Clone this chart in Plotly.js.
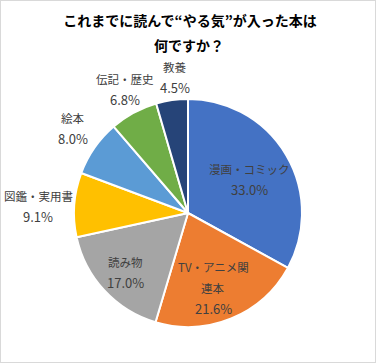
<!DOCTYPE html>
<html>
<head>
<meta charset="utf-8">
<script src="https://cdn.plot.ly/plotly-3.0.1.min.js"></script>
<style>
html,body{margin:0;padding:0;background:#fff;}
#chart{width:374px;height:361px;border:1px solid #d9d9d9;}
</style>
</head>
<body>
<div id="chart"></div>
<script>
// Data
const categories = ['漫画・コミック', 'TV・アニメ関連本', '読み物', '図鑑・実用書', '絵本', '伝記・歴史', '教養'];
const shares = [33.0, 21.6, 17.0, 9.1, 8.0, 6.8, 4.5];
const colors = ['#4472C4', '#ED7D31', '#A5A5A5', '#FFC000', '#5B9BD5', '#70AD47', '#264478'];
const titleLines = ['これまでに読んで“やる気”が入った本は', '何ですか？'];

// Layout helpers (pixel -> paper)
const W = 374, H = 361;
const px = x => (x - 1) / W;
const py = y => (H - (y - 1)) / H;

// Label line breaks (display only)
const wrapAt = {1: 7};
// Label anchor positions (pixels): centre of first line
const labelPos = [
  [249, 169], [213, 267], [125, 262], [38, 196], [73, 118], [125, 79], [175, 67]
];
const lineGap = 20.5;

const annotations = [];
categories.forEach((c, i) => {
  let lines = wrapAt[i] ? [c.slice(0, wrapAt[i]), c.slice(wrapAt[i])] : [c];
  lines.push(shares[i].toFixed(1) + '%');
  lines.forEach((t, k) => {
    annotations.push({
      text: t, xref: 'paper', yref: 'paper',
      x: px(labelPos[i][0]), y: py(labelPos[i][1] + k * lineGap),
      xanchor: 'center', yanchor: 'middle', showarrow: false,
      font: {family: 'Noto Sans CJK JP', size: k === lines.length - 1 ? 13 : 11.5, color: '#404040'}
    });
  });
});
annotations.push({
  text: '<b>' + titleLines[1] + '</b>', xref: 'paper', yref: 'paper',
  x: px(189), y: py(45), xanchor: 'center', yanchor: 'middle', showarrow: false,
  font: {family: 'Noto Sans CJK JP', size: 14, color: '#000000'}
});

const cx = 188, cy = 213, r = 114;
const trace = {
  type: 'pie',
  labels: categories,
  values: shares,
  sort: false,
  direction: 'clockwise',
  rotation: 0,
  marker: {colors: colors, line: {color: '#ffffff', width: 2}},
  textinfo: 'none',
  hoverinfo: 'skip',
  showlegend: false,
  domain: {x: [px(cx - r), px(cx + r)], y: [py(cy + r), py(cy - r)]}
};

const layout = {
  width: W, height: H,
  margin: {l: 0, r: 0, t: 0, b: 0},
  paper_bgcolor: '#ffffff',
  title: {
    text: '<b>' + titleLines[0] + '</b>',
    font: {family: 'Noto Sans CJK JP', size: 14, color: '#000000'},
    x: px(190), xanchor: 'center',
    y: 1 - 20 / H, yref: 'container', yanchor: 'middle'
  },
  annotations: annotations,
  showlegend: false
};

Plotly.newPlot('chart', [trace], layout, {displayModeBar: false, staticPlot: true});
</script>
</body>
</html>
